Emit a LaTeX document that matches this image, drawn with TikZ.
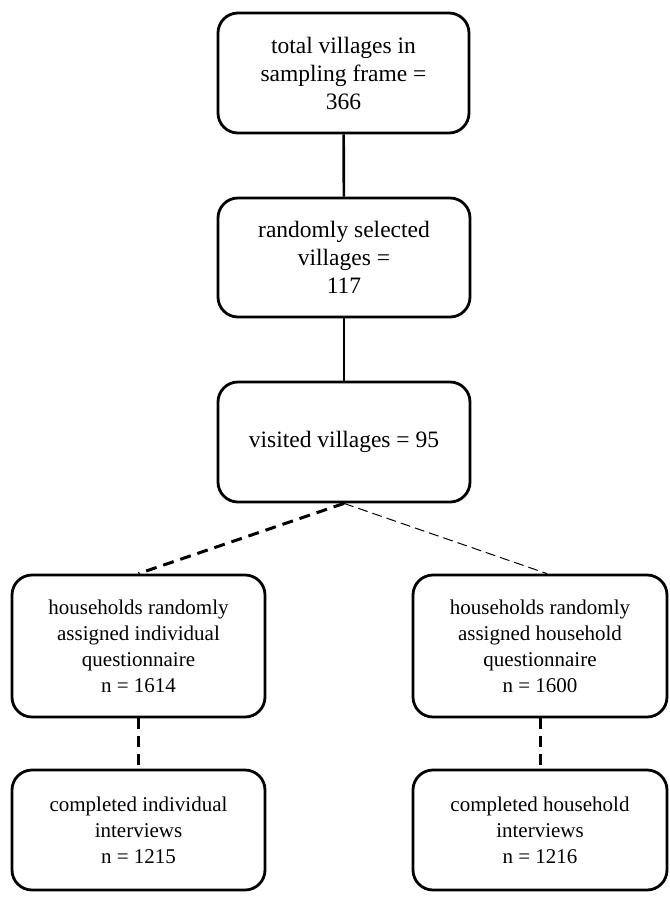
\documentclass[tikz,border=0pt]{standalone}
\usepackage{fontspec}
\setmainfont{Liberation Serif}
\begin{document}
\begin{tikzpicture}[x=1pt,y=-1pt,
  bigbox/.style={draw, line width=2.8pt, rounded corners=20pt, align=center,
    font=\fontsize{23.5}{28}\selectfont, inner sep=0pt},
  smallbox/.style={draw, line width=2.8pt, rounded corners=20pt, align=center,
    font=\fontsize{21}{26}\selectfont, inner sep=0pt},
  solidlink/.style={line width=2.6pt},
  thickdash/.style={line width=3pt, dash pattern=on 11pt off 7pt},
  thindash/.style={line width=1pt, dash pattern=on 10pt off 5pt}]
\useasboundingbox (0,0) rectangle (670,898);
\node[bigbox, minimum width=251pt, minimum height=120pt] (A) at (343.5,73)
  {total villages in\\sampling frame =\\366};
\node[bigbox, minimum width=252pt, minimum height=119pt] (B) at (344,257.5)
  {randomly selected\\villages =\\117};
\node[bigbox, minimum width=252pt, minimum height=120pt] (C) at (344,442)
  {visited villages = 95};
\node[smallbox, minimum width=253pt, minimum height=142pt] (D) at (138.5,646)
  {households randomly\\assigned individual\\questionnaire\\n = 1614};
\node[smallbox, minimum width=254pt, minimum height=142pt] (E) at (540,646)
  {households randomly\\assigned household\\questionnaire\\n = 1600};
\node[smallbox, minimum width=253pt, minimum height=120pt] (F) at (138.5,830)
  {completed individual\\interviews\\n = 1215};
\node[smallbox, minimum width=254pt, minimum height=120pt] (G) at (540,830)
  {completed household\\interviews\\n = 1216};
\draw[solidlink] (A) -- (B);
\draw[solidlink] (B) -- (C);
\draw[thickdash] (C.south) -- (D.north);
\draw[thindash] (C.south) -- ([xshift=7pt]E.north);
\draw[thickdash] (D.south) -- (F.north);
\draw[thickdash] (E.south) -- (G.north);
\end{tikzpicture}
\end{document}
